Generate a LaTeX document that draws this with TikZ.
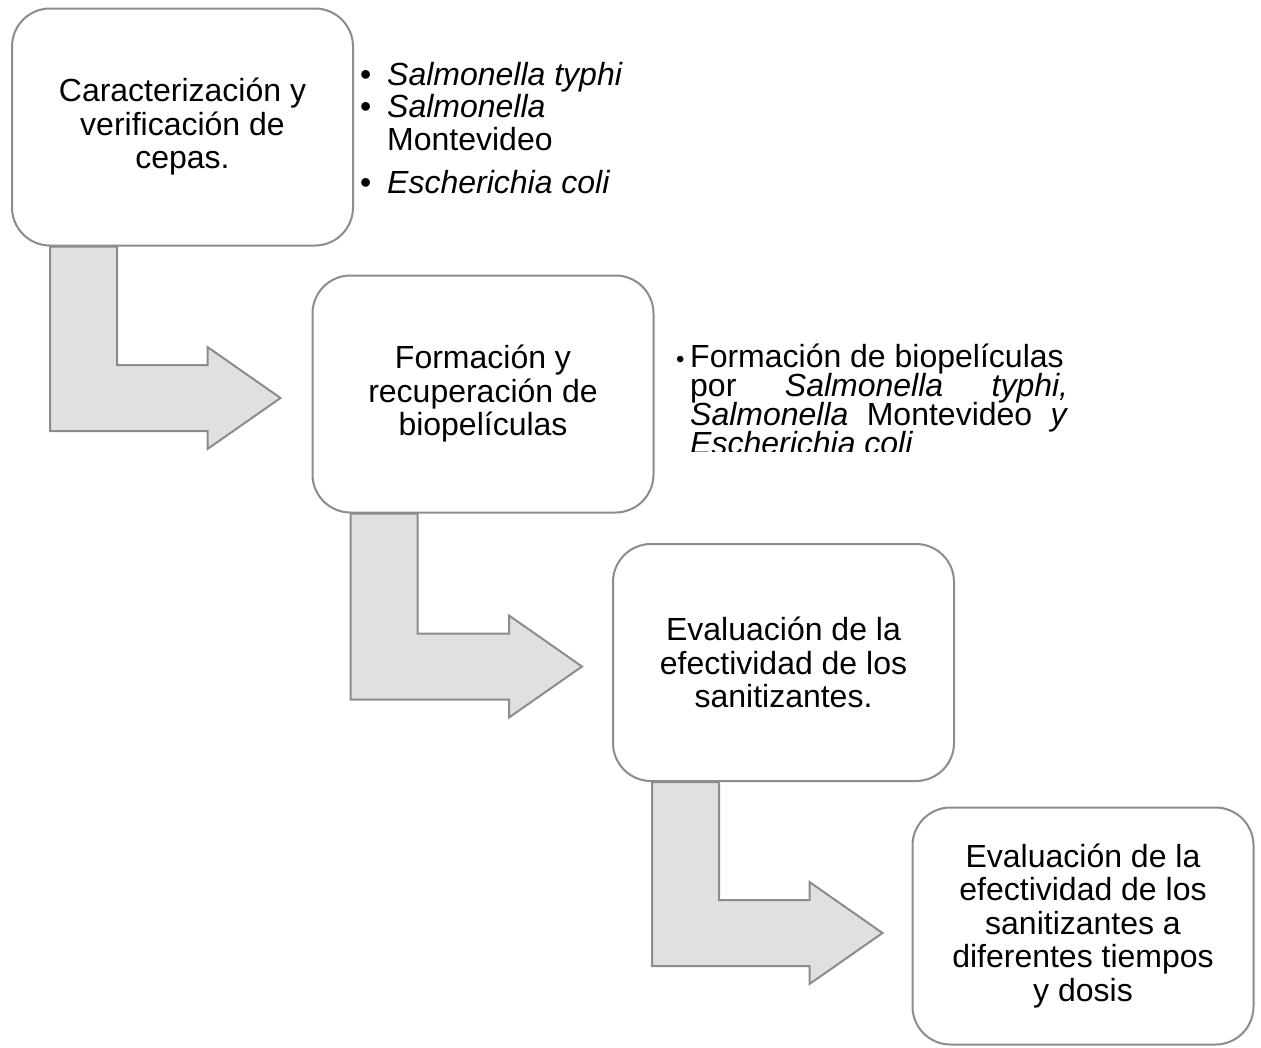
\documentclass[tikz,border=0pt]{standalone}
\usepackage{fontspec}
\setmainfont{Liberation Sans}
\usetikzlibrary{calc}
\definecolor{edgegray}{RGB}{140,140,140}
\definecolor{arrowfill}{RGB}{224,224,224}
\begin{document}
\begin{tikzpicture}[x=1pt,y=-1pt,
  stepbox/.style={draw=edgegray, line width=2pt, rounded corners=38pt, fill=white,
    minimum width=341pt, minimum height=237pt, align=center, inner sep=0pt,
    font=\fontsize{32}{33.5}\selectfont},
  bent/.style={draw=edgegray, line width=2pt, fill=arrowfill, line join=miter},
  side/.style={anchor=base west, inner sep=0pt, font=\fontsize{32}{34}\selectfont},
  sidetight/.style={anchor=base west, inner sep=0pt, font=\fontsize{32}{24}\selectfont}]
\useasboundingbox (0,0) rectangle (1261,1047);
\fill[white] (0,0) rectangle (1261,1047);

% boxes
\node[stepbox] (b1) at (182.5,127) {Caracterización y\\verificación de\\cepas.};
\node[stepbox] (b2) at (483,394) {Formación y\\recuperación de\\biopelículas};
\node[stepbox] (b3) at (783.5,662.5) {Evaluación de la\\efectividad de los\\sanitizantes.};
\node[stepbox] (b4) at (1083,926) {Evaluación de la\\efectividad de los\\sanitizantes a\\diferentes tiempos\\y dosis};

% bent arrows (connectors)
\coordinate (s1) at ($(b1.south west)+(39,0)$);
\coordinate (t1) at ($(b2.west)+(-31,4)$);
\coordinate (s2) at ($(b2.south west)+(39,0)$);
\coordinate (t2) at ($(b3.west)+(-30,4)$);
\coordinate (s3) at ($(b3.south west)+(40,0)$);
\coordinate (t3) at ($(b4.west)+(-29,7)$);
\foreach \s/\t in {s1/t1,s2/t2,s3/t3}{
  \draw[bent] (\s) -- ++(67,0) -- ($(\t -| \s)+(67,-33)$) -- ($(\t)+(-73,-33)$)
    -- ($(\t)+(-73,-51)$) -- (\t) -- ($(\t)+(-73,51)$) -- ($(\t)+(-73,33)$)
    -- ($(\t -| \s)+(0,33)$) -- cycle;
}

% list beside box 1
\node[side] (p1) at (360,85) {•};
\node[side] (l1) at (387,85) {\textit{Salmonella typhi}};
\node[side] (p2) at (360,117) {•};
\node[side] (l2) at (387,117) {\textit{Salmonella}};
\node[side] (l3) at (387,150) {Montevideo};
\node[side] (p3) at (360,193) {•};
\node[side] (l4) at (387,193) {\textit{Escherichia coli}};

% clipped text beside box 2
\begin{scope}
\clip (660,300) rectangle (1100,451);
\node[sidetight] (m1) at (676,367) {\makebox[14pt][l]{\fontsize{24}{24}\selectfont•}Formación de biopelículas};
\node[sidetight] (m2) at (690,396) {\makebox[378pt][s]{por\hfill\textit{Salmonella}\hfill\textit{typhi,}}};
\node[sidetight] (m3) at (690,425) {\makebox[378pt][s]{\textit{Salmonella}\hfill Montevideo\hfill\textit{y}}};
\node[sidetight] (m4) at (690,454) {\textit{Escherichia coli}};
\end{scope}
\end{tikzpicture}
\end{document}
